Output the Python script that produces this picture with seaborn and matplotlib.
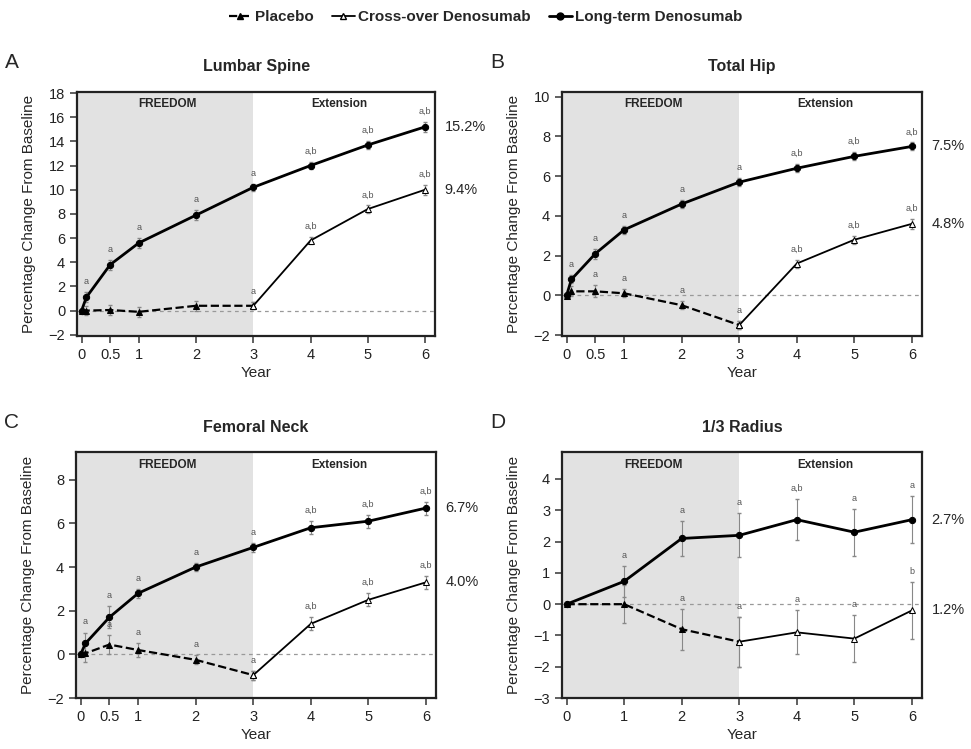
import matplotlib
matplotlib.use("Agg")
import matplotlib.pyplot as plt
from matplotlib.lines import Line2D
import seaborn as sns

# time points (years)
years = [0, 0.083, 0.5, 1, 2, 3, 4, 5, 6]
pbo_years = [0, 0.083, 0.5, 1, 2, 3]
xo_years = [3, 4, 5, 6]
years_rad = [0, 1, 2, 3, 4, 5, 6]
pbo_years_rad = [0, 1, 2, 3]

# Lumbar spine
lt_spine = [0, 1.1, 3.8, 5.6, 7.9, 10.2, 12.0, 13.7, 15.2]
lt_spine_err = [0, 0.4, 0.4, 0.4, 0.4, 0.3, 0.3, 0.3, 0.4]
pbo_spine = [0, 0.0, 0.05, -0.1, 0.4, 0.4]
pbo_spine_err = [0, 0.4, 0.4, 0.4, 0.4, 0.3]
xo_spine = [0.4, 5.8, 8.4, 10.0]
xo_spine_err = [0.3, 0.3, 0.3, 0.4]

# Total hip
lt_hip = [0, 0.8, 2.1, 3.3, 4.6, 5.7, 6.4, 7.0, 7.5]
lt_hip_err = [0, 0.2, 0.25, 0.2, 0.2, 0.2, 0.2, 0.2, 0.2]
pbo_hip = [-0.05, 0.2, 0.2, 0.1, -0.5, -1.5]
pbo_hip_err = [0, 0.25, 0.3, 0.2, 0.2, 0.2]
xo_hip = [-1.5, 1.6, 2.8, 3.6]
xo_hip_err = [0.2, 0.2, 0.2, 0.25]

# Femoral neck
lt_neck = [0, 0.5, 1.7, 2.8, 4.0, 4.9, 5.8, 6.1, 6.7]
lt_neck_err = [0, 0.5, 0.5, 0.2, 0.2, 0.2, 0.3, 0.3, 0.3]
pbo_neck = [0, 0.05, 0.45, 0.2, -0.25, -0.95]
pbo_neck_err = [0, 0.4, 0.45, 0.3, 0.2, 0.2]
xo_neck = [-0.95, 1.4, 2.5, 3.3]
xo_neck_err = [0.2, 0.3, 0.3, 0.3]

# 1/3 radius
lt_rad = [0, 0.73, 2.1, 2.2, 2.7, 2.3, 2.7]
lt_rad_err = [0, 0.5, 0.55, 0.7, 0.65, 0.75, 0.75]
pbo_rad = [0, 0, -0.8, -1.2]
pbo_rad_err = [0, 0.6, 0.65, 0.8]
xo_rad = [-1.2, -0.9, -1.1, -0.2]
xo_rad_err = [0.8, 0.7, 0.75, 0.9]

# significance letters
lt_sig = ['', 'a', 'a', 'a', 'a', 'a', 'a,b', 'a,b', 'a,b']
lt_sig_rad = ['', 'a', 'a', 'a', 'a,b', 'a', 'a']
pbo_sig_spine = ['', '', '', '', '', 'a']
pbo_sig = ['', '', 'a', 'a', 'a', 'a']
pbo_sig_rad = ['', '', 'a', 'a']
xo_sig = ['', 'a,b', 'a,b', 'a,b']
xo_sig_rad = ['', 'a', 'a', 'b']

panels = [
    dict(letter='A', title='Lumbar Spine', x=years, lt=lt_spine, lt_err=lt_spine_err, lt_sig=lt_sig,
         px=pbo_years, pbo=pbo_spine, pbo_err=pbo_spine_err, pbo_sig=pbo_sig_spine,
         xo=xo_spine, xo_err=xo_spine_err, xo_sig=xo_sig,
         ylim=(-2.1, 18.1), yticks=range(-2, 19, 2), xticks=[0, 0.5, 1, 2, 3, 4, 5, 6],
         lab=('15.2%', '9.4%')),
    dict(letter='B', title='Total Hip', x=years, lt=lt_hip, lt_err=lt_hip_err, lt_sig=lt_sig,
         px=pbo_years, pbo=pbo_hip, pbo_err=pbo_hip_err, pbo_sig=pbo_sig,
         xo=xo_hip, xo_err=xo_hip_err, xo_sig=xo_sig,
         ylim=(-2.05, 10.25), yticks=range(-2, 11, 2), xticks=[0, 0.5, 1, 2, 3, 4, 5, 6],
         lab=('7.5%', '4.8%')),
    dict(letter='C', title='Femoral Neck', x=years, lt=lt_neck, lt_err=lt_neck_err, lt_sig=lt_sig,
         px=pbo_years, pbo=pbo_neck, pbo_err=pbo_neck_err, pbo_sig=pbo_sig,
         xo=xo_neck, xo_err=xo_neck_err, xo_sig=xo_sig,
         ylim=(-2, 9.25), yticks=range(-2, 9, 2), xticks=[0, 0.5, 1, 2, 3, 4, 5, 6],
         lab=('6.7%', '4.0%')),
    dict(letter='D', title='1/3 Radius', x=years_rad, lt=lt_rad, lt_err=lt_rad_err, lt_sig=lt_sig_rad,
         px=pbo_years_rad, pbo=pbo_rad, pbo_err=pbo_rad_err, pbo_sig=pbo_sig_rad,
         xo=xo_rad, xo_err=xo_rad_err, xo_sig=xo_sig_rad,
         ylim=(-3, 4.85), yticks=range(-3, 5), xticks=[0, 1, 2, 3, 4, 5, 6],
         lab=('2.7%', '1.2%')),
]

sns.set_style('ticks')
plt.rcParams['font.family'] = ['Liberation Sans', 'DejaVu Sans']

fig = plt.figure(figsize=(9.71, 7.49), dpi=100)
rects = [
    [0.0793, 0.5514, 0.369, 0.326],
    [0.5788, 0.5514, 0.371, 0.326],
    [0.0783, 0.068, 0.371, 0.328],
    [0.5788, 0.068, 0.371, 0.328],
]


def add_sig(ax, xs, ys, errs, sigs, span):
    for x, y, e, s in zip(xs, ys, errs, sigs):
        if s:
            ax.text(x, y + e + span * 0.025, s, ha='center', va='bottom',
                    fontsize=6.5, color='#555555', zorder=6)


for p, rect in zip(panels, rects):
    ax = fig.add_axes(rect)
    xmin, xmax = -0.08, 6.18
    ax.set_xlim(xmin, xmax)
    ax.set_ylim(*p['ylim'])
    span = p['ylim'][1] - p['ylim'][0]
    ax.axvspan(xmin, 3, color='#e2e2e2', zorder=0, lw=0)
    ax.axhline(0, color='#999999', lw=0.9, ls=(0, (3, 3)), zorder=1)

    ax.errorbar(p['x'], p['lt'], yerr=p['lt_err'], fmt='none', ecolor='#888888',
                elinewidth=0.8, capsize=1.5, zorder=2)
    ax.errorbar(p['px'], p['pbo'], yerr=p['pbo_err'], fmt='none', ecolor='#888888',
                elinewidth=0.8, capsize=1.5, zorder=2)
    ax.errorbar(xo_years, p['xo'], yerr=p['xo_err'], fmt='none', ecolor='#888888',
                elinewidth=0.8, capsize=1.5, zorder=2)

    sns.lineplot(x=p['px'], y=p['pbo'], ax=ax, color='black', lw=1.6, linestyle='--',
                 marker='^', markersize=5, markeredgecolor='black', zorder=3)
    sns.lineplot(x=xo_years, y=p['xo'], ax=ax, color='black', lw=1.3,
                 marker='^', markersize=5, markerfacecolor='white',
                 markeredgecolor='black', zorder=4)
    sns.lineplot(x=p['x'], y=p['lt'], ax=ax, color='black', lw=2.0,
                 marker='o', markersize=4.5, markeredgecolor='black', zorder=5)

    add_sig(ax, p['x'], p['lt'], p['lt_err'], p['lt_sig'], span)
    add_sig(ax, p['px'], p['pbo'], p['pbo_err'], p['pbo_sig'], span)
    add_sig(ax, xo_years, p['xo'], p['xo_err'], p['xo_sig'], span)

    ax.text(6.34, p['lt'][-1], p['lab'][0], ha='left', va='center', fontsize=10.5, clip_on=False)
    ax.text(6.34, p['xo'][-1], p['lab'][1], ha='left', va='center', fontsize=10.5, clip_on=False)

    ax.text(1.5, p['ylim'][1] - span * 0.025, 'FREEDOM', ha='center', va='top',
            fontsize=8.5, fontweight='bold')
    ax.text(4.5, p['ylim'][1] - span * 0.025, 'Extension', ha='center', va='top',
            fontsize=8.5, fontweight='bold')

    ax.set_xticks(p['xticks'])
    ax.set_xticklabels([('%g' % t) for t in p['xticks']])
    ax.set_yticks(list(p['yticks']))
    ax.tick_params(labelsize=10.5, length=5, width=1.2, color='#444444', labelcolor='#222222')
    for s in ax.spines.values():
        s.set_linewidth(1.6)
        s.set_color('#222222')
    ax.set_xlabel('Year', fontsize=11, labelpad=3)
    ax.set_ylabel('Percentage Change From Baseline', fontsize=11, labelpad=9)
    ax.set_title(p['title'], fontsize=11.5, fontweight='bold', pad=15)
    ax.text(-0.2, 1.12, p['letter'], transform=ax.transAxes, fontsize=15,
            ha='left', va='center')
    if ax.get_legend():
        ax.get_legend().remove()

handles = [
    Line2D([], [], color='black', lw=1.6, ls='--', marker='^', markersize=5),
    Line2D([], [], color='black', lw=1.3, marker='^', markersize=5, markerfacecolor='white'),
    Line2D([], [], color='black', lw=2.0, marker='o', markersize=5),
]
fig.legend(handles, ['Placebo', 'Cross-over Denosumab', 'Long-term Denosumab'],
           loc='upper center', bbox_to_anchor=(0.5, 1.005), ncol=3, frameon=False,
           prop={'weight': 'bold', 'size': 11}, handlelength=1.5, handletextpad=0.2,
           columnspacing=1.2)

fig.savefig('out.png', dpi=100)
